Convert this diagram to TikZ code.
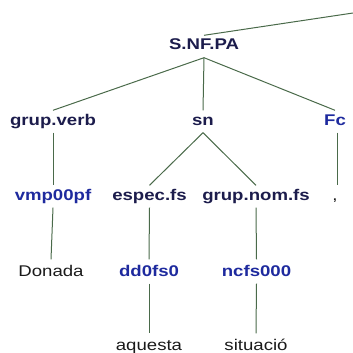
\documentclass[tikz,border=0pt]{standalone}
\usepackage{fontspec}
\setmainfont{Liberation Sans}[FakeStretch=1.2]
\definecolor{navy}{HTML}{1C1C4C}
\definecolor{tagblue}{HTML}{1E2A9E}
\definecolor{edge}{HTML}{4A6A4A}
\definecolor{word}{HTML}{1A1A1A}
\tikzset{
  lbl/.style={anchor=base, inner xsep=0pt, inner ysep=3.5pt, text height=11pt, text depth=4pt, font=\fontsize{15.5}{18}\selectfont},
  cat/.style={lbl, text=navy, font=\fontsize{15.5}{18}\selectfont\bfseries},
  tag/.style={lbl, text=tagblue, font=\fontsize{15.5}{18}\selectfont\bfseries},
  wrd/.style={lbl, text=word},
  tall/.style={text height=13pt},
  link/.style={draw=edge, line width=1pt}
}
\begin{document}
\begin{tikzpicture}[x=1pt,y=-1pt]
\useasboundingbox (0,0) rectangle (353,353);
\node[cat] (s) at (204,50) {S.NF.PA};
\coordinate (up) at (353,13);
\node[cat] (gv) at (53,125) {grup.verb};
\node[cat] (sn) at (203,125) {sn};
\node[tag] (fc) at (335,125) {Fc};
\node[tag] (vmp) at (53,200) {vmp00pf};
\node[cat] (esp) at (149.5,200) {espec.fs};
\node[cat] (gnom) at (256,200) {grup.nom.fs};
\node[wrd] (comma) at (335,200) {,};
\node[wrd,tall] (don) at (51,276) {Donada};
\node[tag,tall] (dd) at (149,276) {dd0fs0};
\node[tag,tall] (nc) at (256.5,276) {ncfs000};
\node[wrd,tall] (aq) at (149,350) {aquesta};
\node[wrd,tall] (sit) at (256,350) {situació};
\draw[link] (s.north) -- (up);
\draw[link] (s.south) -- (gv.north);
\draw[link] (s.south) -- (sn.north);
\draw[link] (s.south) -- (fc.north);
\draw[link] (gv.south) -- (vmp.north);
\draw[link] (sn.south) -- (esp.north);
\draw[link] (sn.south) -- (gnom.north);
\draw[link] ([xshift=2pt]fc.south) -- ([xshift=2pt]comma.north);
\draw[link] (vmp.south) -- (don.north);
\draw[link] (esp.south) -- (dd.north);
\draw[link] (gnom.south) -- (nc.north);
\draw[link] (dd.south) -- (aq.north);
\draw[link] (nc.south) -- (sit.north);
\end{tikzpicture}
\end{document}
